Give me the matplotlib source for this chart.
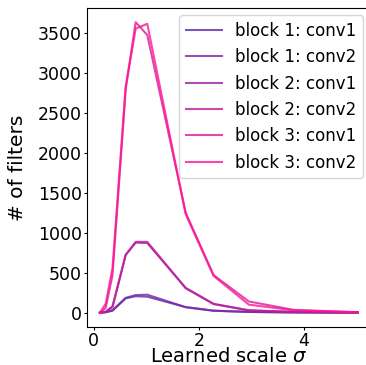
import numpy as np
import matplotlib
matplotlib.use("Agg")
import matplotlib.pyplot as plt
from matplotlib.colors import to_rgb

# learned sigma bin positions
sigma = [0.12, 0.23, 0.36, 0.61, 0.80, 1.02, 1.75, 2.28, 2.95, 3.80, 5.02]

labels = ["block 1: conv1", "block 1: conv2",
          "block 2: conv1", "block 2: conv2",
          "block 3: conv1", "block 3: conv2"]

b1c1 = [0, 5, 25, 180, 205, 200, 70, 25, 10, 3, 1]
b1c2 = [0, 6, 30, 185, 220, 225, 68, 24, 9, 3, 1]
b2c1 = [0, 10, 70, 720, 875, 870, 310, 110, 30, 10, 2]
b2c2 = [0, 12, 80, 725, 885, 885, 305, 108, 28, 9, 2]
b3c1 = [0, 60, 470, 2790, 3630, 3470, 1250, 470, 140, 35, 5]
b3c2 = [0, 110, 560, 2830, 3550, 3610, 1230, 460, 100, 30, 5]

series = [b1c1, b1c2, b2c1, b2c2, b3c1, b3c2]


def colour_ramp(n, start="#5a2aa8", end="#ff1493"):
    a, b = np.array(to_rgb(start)), np.array(to_rgb(end))
    return [tuple(a + (b - a) * t) for t in np.linspace(0, 1, n)]


fig = plt.figure(figsize=(3.66, 3.65), dpi=100)
ax_w, ax_h = 370.7 - 87, 327.2 - 7.7
ax = fig.add_axes([87 / 366, 1 - 327.2 / 365, ax_w / 366, ax_h / 365])

for vals, lab, col in zip(series, labels, colour_ramp(len(series))):
    ax.plot(sigma, vals, color=col, lw=1.5, alpha=0.8, label=lab)

ax.set_xticks([0, 2, 4])
ax.set_yticks(range(0, 3501, 500))
ax.tick_params(labelsize=12.5, length=2.5, pad=1)
ax.set_xlabel(r"Learned scale $\sigma$", fontsize=14, va="top")
ax.xaxis.set_label_coords((229 - 87) / ax_w, -(347.5 - 327.2) / ax_h)
ax.set_ylabel("# of filters", fontsize=14.5)
ax.yaxis.set_label_coords(-(87 - 27) / ax_w, 0.5)
ax.legend(loc="upper right", fontsize=12, handlelength=2.15, labelspacing=0.5,
          borderaxespad=0.45)

fig.savefig("out.png", dpi=100)
